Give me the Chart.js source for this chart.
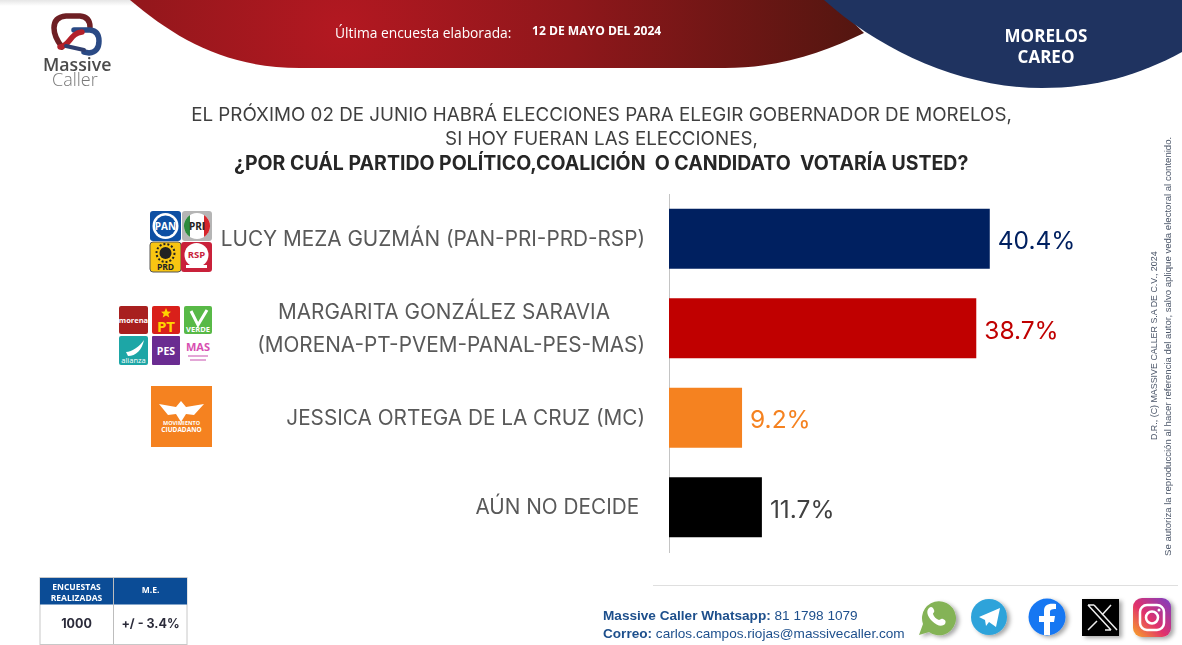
<!DOCTYPE html>
<html lang="es"><head><meta charset="utf-8">
<script src="https://cdn.jsdelivr.net/npm/chart.js@4"></script>
<style>
html,body{margin:0;padding:0;background:#fff;width:1182px;height:645px;overflow:hidden}
#wrap{position:relative;width:1182px;height:645px;overflow:hidden}
svg.bg,canvas{position:absolute;left:0;top:0}
.t{position:absolute;white-space:pre;font-family:"Open Sans",sans-serif;line-height:1}
.rot{transform-origin:0 0;transform:rotate(-90deg);font-family:"Liberation Sans",sans-serif;color:#4a5568}
</style></head><body><div id="wrap">
<svg class="bg" width="1182" height="645" viewBox="0 0 1182 645" font-family="Open Sans, sans-serif">
<defs>
<radialGradient id="rg" gradientUnits="userSpaceOnUse" cx="340" cy="30" r="520"><stop offset="0" stop-color="#b31821"/><stop offset=".45" stop-color="#8f171b"/><stop offset="1" stop-color="#541610"/></radialGradient>
<linearGradient id="gr" x1="0" x2="0" y1="0" y2="1"><stop offset="0" stop-color="#e6e6e6"/><stop offset="1" stop-color="#fff"/></linearGradient>
<linearGradient id="ig" x1="0" x2="1" y1="1" y2="0"><stop offset="0" stop-color="#f9a825"/><stop offset=".45" stop-color="#e1306c"/><stop offset="1" stop-color="#7b3fc4"/></linearGradient>
<filter id="sh" x="-30%" y="-30%" width="170%" height="170%"><feDropShadow dx="3" dy="2" stdDeviation="2" flood-color="#000" flood-opacity=".35"/></filter>
</defs>
<rect x="0" y="0" width="135" height="6" fill="url(#gr)"/>
<path d="M130 0 C175 38 225 68 300 68 L725 68 C780 68 825 52 864 33 L830 0 Z" fill="url(#rg)"/>
<path d="M824 0 C880 50 960 88 1042 88 C1095 88 1140 75 1182 52 L1182 0 Z" fill="#1f3360"/>
<!-- Massive Caller logo -->
<g fill="none" stroke-linecap="round">
<path d="M62 47 Q54 37 54 28 Q54 17 66 16 L80 16 Q90 17 90 27" stroke="#6e1f24" stroke-width="5.500"/>
<path d="M74 30 L90 30 Q99 31 99 41 Q99 52 89 53 L84 52" stroke="#2a4a85" stroke-width="5.500"/>
<path d="M60 47 C70 46 70 33 82 32" stroke="#b3202a" stroke-width="5.500"/>
<path d="M66 46 L84 50" stroke="#2f3f70" stroke-width="4"/>
</g>
<!-- party tiles -->
<g text-anchor="middle" font-weight="700">
<rect x="150" y="211" width="31" height="30" rx="3" fill="#0d4fa3"/><circle cx="165.500" cy="226" r="13" fill="#fff"/><circle cx="165.500" cy="226" r="10.500" fill="#0d4fa3"/><text x="165.500" y="230" font-size="10" fill="#fff">PAN</text>
<rect x="182" y="211" width="30" height="30" rx="3" fill="#b5b5b5"/><circle cx="197" cy="226" r="13" fill="#fff"/><path d="M190 215 A13 13 0 0 0 190 237 Z" fill="#2e8b3d"/><path d="M204 215 A13 13 0 0 1 204 237 Z" fill="#d5262c"/><text x="197" y="230" font-size="10" fill="#222">PRI</text>
<rect x="150" y="242" width="31" height="30" rx="3" fill="#f8c512" stroke="#555"/><circle cx="165.500" cy="253" r="6" fill="#222"/><circle cx="165.500" cy="253" r="9" fill="none" stroke="#222" stroke-width="2" stroke-dasharray="2 2"/><text x="165.500" y="270" font-size="8.500" fill="#222">PRD</text>
<rect x="181" y="242" width="31" height="30" rx="3" fill="#c9213a"/><circle cx="196.500" cy="255" r="12" fill="#fff"/><text x="196.500" y="258" font-size="9.500" fill="#c9213a">RSP</text><rect x="186" y="265" width="21" height="3" fill="#fff"/>
<rect x="119" y="306" width="29" height="28" rx="2" fill="#a8201f"/><text x="133.500" y="323" font-size="7.500" fill="#fff">morena</text>
<rect x="152" y="306" width="28" height="28" rx="2" fill="#d9201a"/><path d="M166 308 l1.500 3.500 3.500 .3 -2.700 2.200 1 3.500 -3.300-2 -3.300 2 1-3.500 -2.700-2.200 3.500-.3Z" fill="#ffd400"/><text x="166" y="332" font-size="15" fill="#ffd400">PT</text>
<rect x="184" y="306" width="28" height="28" rx="2" fill="#58b947"/><path d="M191 311 L198 325 L207 310" fill="none" stroke="#fff" stroke-width="3"/><text x="198" y="332" font-size="7.500" fill="#fff">VERDE</text>
<rect x="119" y="336" width="29" height="29" rx="2" fill="#1da6a6"/><path d="M126 352 C132 352 140 346 144 340 C142 350 136 356 128 356Z" fill="#fff"/><text x="133.500" y="363" font-size="7.500" font-weight="400" fill="#fff">alianza</text>
<rect x="152" y="336" width="28" height="29" rx="1" fill="#6a2c91"/><text x="166" y="355" font-size="10.500" fill="#fff">PES</text>
<rect x="184" y="336" width="28" height="29" fill="#fff"/><text x="198" y="351" font-size="11" fill="#d84fb1">MAS</text><rect x="188" y="355" width="20" height="2" fill="#e3a6d6"/><rect x="190" y="359" width="16" height="2" fill="#e3a6d6"/>
<rect x="151" y="386" width="61" height="61" fill="#f58220"/><path d="M159 404 L176 407 L181 401 L186 407 L204 404 L194 415 L186 414 L181 422 L176 414 L168 415 Z" fill="#fff"/><text x="181.500" y="425" font-size="5.500" fill="#fff">MOVIMIENTO</text><text x="181.500" y="432" font-size="6.500" fill="#fff">CIUDADANO</text>
</g>
<!-- survey table -->
<rect x="40" y="577.500" width="147" height="67" fill="#fff" stroke="#c8c8c8"/>
<rect x="40" y="578" width="147" height="26.500" fill="#0b4c96"/>
<line x1="113.500" x2="113.500" y1="578" y2="644" stroke="#bdbdbd"/>
<line x1="653" x2="1178" y1="585.500" y2="585.500" stroke="#dfdfdf"/>
<!-- social icons -->
<g filter="url(#sh)"><path d="M919 635 L923 624 A17 17 0 1 1 929 632 Z" fill="#84b357"/><path d="M929 608 c2-2 4-1 5 2 c1 2-1 3-1 4 c1 3 3 5 6 6 c1 0 2-2 4-1 c3 1 3 3 2 5 c-3 3-8 2-13-3 c-5-5-6-10-3-13Z" fill="#fff"/></g>
<g filter="url(#sh)"><circle cx="989" cy="617" r="18" fill="#2fa3da"/><path d="M979 617 L1000 608 L996 627 L989 622 L986 626 L985 620Z" fill="#fff"/></g>
<g filter="url(#sh)"><circle cx="1047" cy="617" r="18.500" fill="#1877f2"/><path d="M1044 635 L1044 622 H1039 V616 H1044 V611 C1044 605 1048 603 1056 604 V609 C1051 609 1050 610 1050 612 V616 H1055 L1054 622 H1050 V635Z" fill="#fff"/></g>
<g filter="url(#sh)"><rect x="1082" y="599" width="37" height="37" fill="#000"/><path d="M1089 605 L1112 630 M1095 605 L1118 630 M1089 605 H1095 M1106 630 H1112 M1112 605 L1103 615 M1098 621 L1089 630" transform="translate(-1 0)" fill="none" stroke="#eee" stroke-width="1.500"/></g>
<g filter="url(#sh)"><rect x="1133" y="598" width="38" height="39" rx="9" fill="url(#ig)"/><rect x="1140" y="605" width="24" height="25" rx="7" fill="none" stroke="#fff" stroke-width="2.500"/><circle cx="1152" cy="617.500" r="6" fill="none" stroke="#fff" stroke-width="2.500"/><circle cx="1159" cy="610" r="1.500" fill="#fff"/></g>
</svg>
<canvas id="chart" width="1182" height="645"></canvas>
<div class="t" style="left:43px;top:56px;font-size:17.700px;font-weight:600;color:#4a4a4a">Massive</div>
<div class="t" style="left:52px;top:70px;font-size:18px;font-weight:300;color:#777">Caller</div>
<div class="t" style="left:335px;top:26px;font-size:13.800px;color:#fff">Última encuesta elaborada:</div>
<div class="t" style="left:532px;top:25px;font-size:12.100px;font-weight:700;color:#fff">12 DE MAYO DEL 2024</div>
<div class="t" style="left:946px;width:200px;text-align:center;top:27px;font-size:17px;font-weight:700;color:#fff">MORELOS</div>
<div class="t" style="left:946px;width:200px;text-align:center;top:48px;font-size:17px;font-weight:700;color:#fff">CAREO</div>
<div class="t" style="left:0;width:1203px;text-align:center;top:106px;font-size:18.800px;font-family:Inter,sans-serif;color:#3f3f3f">EL PRÓXIMO 02 DE JUNIO HABRÁ ELECCIONES PARA ELEGIR GOBERNADOR DE MORELOS,</div>
<div class="t" style="left:0;width:1203px;text-align:center;top:130px;font-size:18.800px;font-family:Inter,sans-serif;color:#3f3f3f">SI HOY FUERAN LAS ELECCIONES,</div>
<div class="t" style="left:234px;top:154px;font-size:19.500px;font-weight:700;font-family:Inter,sans-serif;color:#262626">¿POR CUÁL PARTIDO POLÍTICO,COALICIÓN  O CANDIDATO  VOTARÍA USTED?</div>
<div class="t" style="left:40px;width:73px;text-align:center;top:581px;font-size:8.500px;font-weight:700;color:#fff;line-height:11px">ENCUESTAS
REALIZADAS</div>
<div class="t" style="left:114px;width:73px;text-align:center;top:586px;font-size:8.500px;font-weight:700;color:#fff">M.E.</div>
<div class="t" style="left:40px;width:73px;text-align:center;top:618px;font-size:12.500px;font-weight:700;font-family:Inter,sans-serif;color:#2b2b3a">1000</div>
<div class="t" style="left:114px;width:73px;text-align:center;top:618px;font-size:12.500px;font-weight:700;font-family:Inter,sans-serif;color:#2b2b3a">+/ - 3.4%</div>
<div class="t" style="left:603px;top:609px;font-size:13.600px;color:#1d4f8c;font-family:'Liberation Sans',sans-serif"><b>Massive Caller Whatsapp:</b> 81 1798 1079</div>
<div class="t" style="left:603px;top:627px;font-size:13.600px;color:#1d4f8c;font-family:'Liberation Sans',sans-serif"><b>Correo:</b> carlos.campos.riojas@massivecaller.com</div>
<div class="t rot" style="left:1150px;top:440px;font-size:8.900px">D.R., (C) MASSIVE CALLER S.A DE C.V., 2024</div>
<div class="t rot" style="left:1163px;top:556px;font-size:9.600px">Se autoriza la reproducción al hacer referencia del autor, salvo aplique veda electoral al contenido.</div>
</div>
<script>
const categories = [
  ["LUCY MEZA GUZMÁN (PAN-PRI-PRD-RSP)"],
  ["MARGARITA GONZÁLEZ SARAVIA", "(MORENA-PT-PVEM-PANAL-PES-MAS)"],
  ["JESSICA ORTEGA DE LA CRUZ (MC)"],
  ["AÚN NO DECIDE"]
];
const values = [40.4, 38.7, 9.2, 11.7];
const barColors = ["#002060", "#C00000", "#F58220", "#000000"];
const valueColors = ["#002060", "#C00000", "#F58220", "#404040"];

const valueLabels = {
  id: "valueLabels",
  beforeDraw(chart) {
    const y = chart.scales.y;
    if (y._shifted) return;
    y._shifted = true;
    const drawLabels = y.drawLabels;
    y.drawLabels = function (area) {
      chart.ctx.save();
      chart.ctx.translate(0, 1);
      drawLabels.call(this, area);
      chart.ctx.restore();
    };
  },
  afterDatasetsDraw(chart) {
    const ctx = chart.ctx;
    ctx.save();
    ctx.font = '24.500px Inter, sans-serif';
    ctx.textBaseline = "middle";
    ctx.textAlign = "left";
    chart.getDatasetMeta(0).data.forEach((bar, i) => {
      ctx.fillStyle = valueColors[i];
      ctx.fillText(values[i].toFixed(1) + "%", bar.x + 8, bar.y + 3);
    });
    ctx.restore();
  }
};

new Chart(document.getElementById("chart"), {
  type: "bar",
  data: {
    labels: categories,
    datasets: [{ data: values, backgroundColor: barColors, borderWidth: 0,
                 barPercentage: 0.67, categoryPercentage: 1 }]
  },
  options: {
    indexAxis: "y",
    responsive: false,
    animation: false,
    layout: { padding: { left: 0, top: 194, bottom: 93, right: 116 } },
    plugins: { legend: { display: false }, tooltip: { enabled: false } },
    scales: {
      x: { display: false, min: 0, max: 50, grid: { display: false } },
      y: {
        afterFit(s) { s.width = 669; },
        grid: { display: false, drawTicks: false },
        border: { display: true, color: "#c4c4c4", width: 1 },
        ticks: {
          padding: 24,
          color: "#595959",
          font: { family: 'Inter, sans-serif', size: 20.750, lineHeight: 1.55 },
          callback(v, i) {
            const l = categories[i];
            if (l.length > 1) return [l[0] + "\u00A0".repeat(6), l[1]];
            return i === 3 ? l[0] + "\u00A0" : l[0];
          }
        }
      }
    }
  },
  plugins: [valueLabels]
});
</script>
</body></html>
